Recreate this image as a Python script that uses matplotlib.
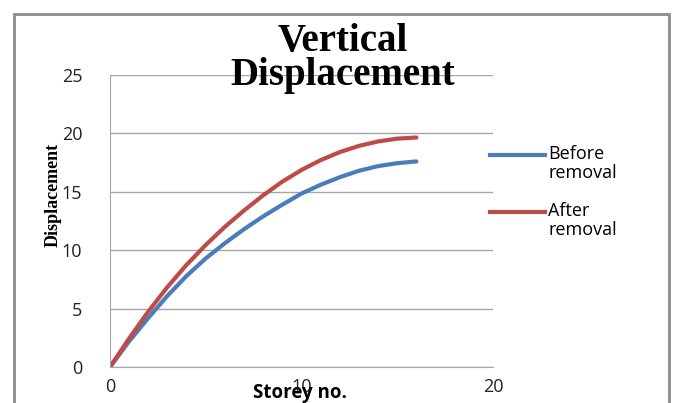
import matplotlib.pyplot as plt
from matplotlib.patches import Rectangle
from matplotlib.lines import Line2D

# Storey numbers and vertical displacement values
storey = list(range(17))
before_removal = [0, 2.2, 4.2, 6.1, 7.8, 9.3, 10.6, 11.8, 12.9, 13.9, 14.85,
                  15.6, 16.25, 16.8, 17.2, 17.45, 17.6]
after_removal = [0, 2.45, 4.75, 6.85, 8.75, 10.45, 12.0, 13.4, 14.7, 15.87, 16.87,
                 17.71, 18.4, 18.93, 19.31, 19.55, 19.65]
series_names = ['Before\nremoval', 'After\nremoval']
series_colors = ['#4A7EBB', '#BE4B48']

fig = plt.figure(figsize=(6.76, 4.03), dpi=100)
ax = fig.add_axes([0.1627, 0.0893, 0.5666, 0.7246])

# outer chart border
fig.patches.append(Rectangle((14 / 676, -0.05), 655 / 676, 1 - 14 / 403 + 0.05,
                             transform=fig.transFigure, fill=False,
                             edgecolor='#8c8c8c', linewidth=2))

for vals, color in zip([before_removal, after_removal], series_colors):
    ax.plot(storey, vals, color=color, linewidth=3, solid_capstyle='round')

ax.set_xlim(0, 20)
ax.set_ylim(0, 25)
ax.set_xticks([0, 10, 20])
ax.set_yticks([0, 5, 10, 15, 20, 25])
ax.grid(axis='y', color='#a6a6a6', linewidth=1)
ax.set_axisbelow(True)
for s in ['top', 'right']:
    ax.spines[s].set_visible(False)
for s in ['left', 'bottom']:
    ax.spines[s].set_color('#a6a6a6')
ax.tick_params(length=0, labelsize=13, labelcolor='#222222')
ax.tick_params(axis='y', pad=20)
ax.tick_params(axis='x', pad=8)
for lbl in ax.get_xticklabels() + ax.get_yticklabels():
    lbl.set_family('Open Sans')

# two-line title, second line sits on the top gridline
fig.text(0.507, 1 - 51 / 403, 'Vertical', ha='center', va='baseline',
         family='Liberation Serif', fontweight='bold', fontsize=28, zorder=5)
fig.text(0.507, 1 - 85 / 403, 'Displacement', ha='center', va='baseline',
         family='Liberation Serif', fontweight='bold', fontsize=28, zorder=5)

fig.text(0.079, 0.516, 'Displacement', rotation=90, ha='center', va='center',
         family='Liberation Serif', fontweight='bold', fontsize=13)
fig.text(0.444, 0.025, 'Storey no.', ha='center', va='center', family='Open Sans',
         fontweight='bold', fontsize=13.5)

# legend: short line beside a two-line label, line level with the first line
for i, (name, color) in enumerate(zip(series_names, series_colors)):
    y = 1 - (155 + 57 * i) / 403
    fig.add_artist(Line2D([490 / 676, 545 / 676], [y, y], color=color, linewidth=3,
                          transform=fig.transFigure))
    fig.text(548 / 676, y + 0.025, name, ha='left', va='top', family='Open Sans',
             fontsize=13, linespacing=1.05)

fig.savefig('out.png', dpi=100)
